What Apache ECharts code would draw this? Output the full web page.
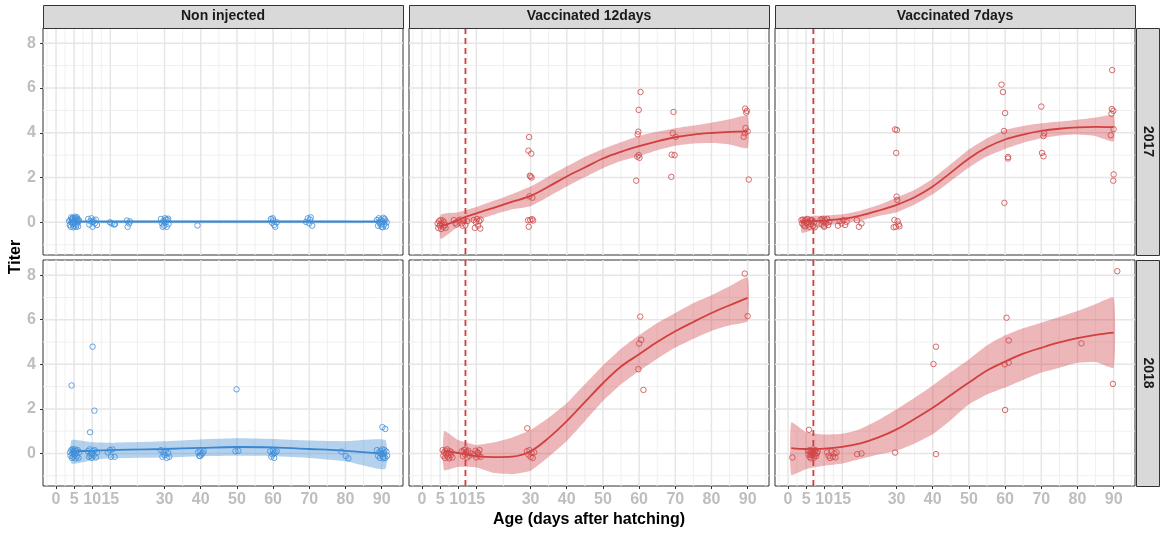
<!DOCTYPE html>
<html>
<head>
<meta charset="utf-8">
<script src="https://cdn.jsdelivr.net/npm/echarts@6/dist/echarts.min.js"></script>
<style>
html, body { margin: 0; padding: 0; background: #fff; }
#main { width: 1160px; height: 534px; }
</style>
</head>
<body>
<div id="main"></div>
<script>
// facet labels
var groups = ['Non injected', 'Vaccinated 12days', 'Vaccinated 7days'];
var years = ['2017', '2018'];
var vaccDay = [null, 12, 7];

// axis breaks (ggplot style major / minor)
var xBreaks = [0, 5, 10, 15, 30, 40, 50, 60, 70, 80, 90];
var xMinor = [-2.5, 2.5, 7.5, 12.5, 22.5, 35, 45, 55, 65, 75, 85, 95];
var yBreaks = [0, 2, 4, 6, 8];
var yMinor = [-1, 1, 3, 5, 7];

// ---- points [age, titer] ----
var nonInj2017 = [
  [3.6,0.05],[3.8,-0.12],[4.0,0.1],[4.1,-0.2],[4.2,0.22],[4.3,0.0],[4.4,0.15],[4.6,-0.08],[4.7,0.2],[4.8,-0.22],
  [4.9,0.05],[5.0,-0.15],[5.1,0.12],[5.2,-0.02],[5.3,0.25],[5.4,0.18],[5.5,-0.2],[5.6,0.08],[5.7,-0.1],[5.8,0.22],
  [5.9,0.15],[6.0,0.0],[6.1,-0.18],[6.2,0.05],[6.3,0.1],
  [8.9,0.15],[9.2,-0.1],[9.5,0.05],[9.8,0.18],[10.1,-0.2],[10.2,0.02],[10.4,0.08],[10.7,-0.05],[11.0,0.12],[11.3,-0.12],
  [14.9,0.0],[15.4,-0.05],[16.0,-0.1],[16.3,-0.08],
  [19.6,0.08],[19.8,-0.2],[20.2,-0.05],[20.4,0.04],
  [29.0,0.15],[29.3,-0.05],[29.5,-0.2],[29.6,0.05],[29.9,-0.15],[30.1,0.18],[30.3,0.0],[30.4,0.12],[30.6,-0.2],
  [30.8,0.1],[31.0,0.16],[31.1,-0.08],
  [39.1,-0.14],
  [59.4,0.15],[59.7,-0.02],[59.9,0.18],[60.0,0.08],[60.3,-0.12],[60.6,-0.2],[61.0,0.0],
  [69.1,0.02],[69.6,0.18],[70.0,-0.05],[70.2,0.12],[70.4,0.22],[70.8,-0.15],
  [88.7,0.1],[89.0,-0.15],[89.2,0.18],[89.4,0.02],[89.5,-0.05],[89.8,0.12],[89.9,-0.1],[90.0,-0.2],[90.2,0.05],
  [90.3,-0.22],[90.5,0.2],[90.7,-0.1],[90.8,0.15],[91.0,0.08],[91.2,-0.18],[91.4,0.0]
];
var vac12_2017 = [
  [4.3,-0.05],[4.5,-0.25],[4.7,0.05],[4.9,-0.15],[5.0,-0.1],[5.1,0.1],[5.3,-0.3],[5.5,-0.05],[5.7,0.08],[5.9,-0.2],
  [6.1,0.0],[6.3,-0.12],[6.5,-0.25],
  [8.8,0.1],[9.2,-0.02],[9.5,-0.1],[10.0,0.08],[10.6,0.12],[11.0,-0.05],[11.2,-0.15],[11.5,0.1],[12.0,-0.12],[12.5,0.05],
  [14.3,0.1],[14.6,-0.25],[14.9,0.0],[15.2,0.15],[15.5,-0.15],[15.8,0.05],[16.1,-0.28],[16.2,0.12],
  [29.6,3.81],[29.4,3.2],[30.2,3.07],[29.8,2.08],[30.0,2.05],[30.3,2.0],[29.7,1.16],[30.5,1.1],[29.3,0.09],
  [29.9,0.1],[30.4,0.14],[30.7,0.08],[29.5,-0.2],
  [60.4,5.82],[59.9,5.02],[59.8,4.05],[59.6,3.93],[59.5,2.93],[59.9,3.0],[60.1,2.88],[59.2,1.86],
  [69.5,4.93],[69.3,3.98],[70.1,3.82],[69.0,3.02],[69.8,3.0],[68.9,2.03],
  [89.3,5.08],[89.8,4.98],[89.6,4.9],[89.4,4.21],[90.0,4.06],[89.2,3.98],[88.9,3.82],[90.3,1.91]
];
var vac7_2017 = [
  [3.7,0.1],[3.9,-0.05],[4.1,0.12],[4.3,-0.12],[4.5,0.05],[4.7,-0.18],[4.9,0.1],[5.1,-0.02],[5.3,0.15],[5.5,-0.1],
  [5.7,0.02],[5.9,-0.2],[6.1,0.08],[6.3,-0.08],[6.6,0.1],[6.9,-0.15],[7.2,0.0],[7.4,-0.22],
  [9.0,0.12],[9.3,-0.1],[9.5,0.15],[9.6,0.05],[9.9,-0.15],[10.0,-0.2],[10.2,0.1],[10.5,-0.05],[10.8,0.15],[11.1,-0.12],[11.4,0.02],
  [13.8,-0.15],[14.3,0.05],[14.8,-0.05],[15.3,0.1],[15.8,-0.12],[16.2,0.02],
  [19.0,0.1],[19.6,-0.2],[20.3,-0.05],
  [29.6,4.15],[30.1,4.12],[29.9,3.1],[30.0,1.15],[30.2,1.0],[29.4,0.1],[30.3,0.05],[30.6,-0.1],[29.2,-0.22],
  [29.8,-0.2],[30.8,-0.18],
  [59.0,6.15],[59.4,5.82],[60.0,4.88],[59.7,4.08],[60.8,2.92],[60.8,2.85],[59.8,0.87],
  [70.0,5.17],[70.8,3.98],[70.6,3.85],[70.2,3.1],[70.6,2.95],
  [89.6,6.8],[89.5,5.06],[89.9,4.98],[89.4,4.85],[90.0,4.16],[89.2,3.89],[90.0,2.14],[89.9,1.86]
];
var nonInj2018 = [
  [4.3,3.05],[10.1,4.79],[10.6,1.92],[9.4,0.95],[49.9,2.88],[90.2,1.18],[91.0,1.1],
  [3.9,0.05],[4.0,-0.1],[4.2,0.15],[4.4,-0.2],[4.5,0.0],[4.6,0.2],[4.7,0.12],[4.8,-0.15],[5.0,0.08],[5.1,-0.05],
  [5.3,0.18],[5.4,-0.22],[5.5,0.02],[5.6,0.1],[5.8,-0.12],[6.0,0.15],[6.2,-0.2],[6.4,0.05],
  [8.8,0.1],[9.1,-0.15],[9.3,0.18],[9.5,-0.1],[9.6,0.0],[9.9,-0.2],[10.0,-0.02],[10.2,0.12],[10.4,-0.08],
  [10.7,0.15],[11.0,-0.18],[11.3,0.05],
  [14.3,0.05],[14.9,0.15],[15.2,-0.15],[15.6,0.18],[16.2,-0.15],
  [29.0,0.15],[29.4,-0.15],[29.7,0.05],[30.0,-0.08],[30.3,0.12],[30.6,-0.2],[31.0,0.02],[31.3,-0.15],
  [39.3,0.05],[39.6,-0.1],[39.8,-0.12],[39.9,0.12],[40.2,-0.05],[40.5,0.02],[40.8,0.1],
  [49.6,0.1],[50.4,0.12],
  [59.2,0.1],[59.5,-0.15],[59.8,-0.05],[60.0,0.12],[60.2,0.0],[60.3,-0.2],[60.6,0.05],[61.0,0.1],
  [78.9,0.08],[80.1,-0.12],[80.8,-0.22],
  [88.7,0.15],[89.0,-0.1],[89.3,0.05],[89.5,-0.2],[89.7,0.12],[89.9,0.0],[90.0,-0.05],[90.2,0.18],[90.4,-0.15],
  [90.5,-0.22],[90.6,0.02],[90.8,0.15],[91.0,-0.2],[91.3,0.08],[91.5,-0.1]
];
var vac12_2018 = [
  [5.7,0.15],[5.9,-0.1],[6.1,0.05],[6.3,-0.2],[6.5,0.12],[6.7,-0.05],[6.9,0.18],[7.1,-0.15],[7.3,0.02],[7.5,-0.22],
  [7.7,0.1],[7.9,-0.08],[8.1,0.05],[8.4,-0.18],
  [11.0,0.1],[11.3,-0.12],[11.6,0.15],[11.9,-0.05],[12.0,0.18],[12.2,0.08],[12.5,-0.18],[12.8,0.12],[13.1,-0.1],[13.4,0.0],
  [14.4,-0.05],[14.8,0.12],[15.0,-0.18],[15.3,0.05],[15.5,0.02],[15.6,-0.1],[15.9,0.15],[16.2,-0.15],
  [29.1,1.13],[29.0,0.1],[29.4,-0.05],[29.7,0.15],[30.0,-0.15],[30.3,0.02],[30.6,-0.2],[31.0,0.05],
  [60.3,6.14],[60.6,5.1],[60.0,4.93],[59.8,3.78],[61.2,2.85],
  [89.2,8.07],[90.0,6.16]
];
var vac7_2018 = [
  [1.2,-0.18],[5.8,1.06],
  [5.5,0.1],[5.7,-0.05],[5.9,0.15],[6.0,-0.15],[6.2,0.05],[6.3,-0.22],[6.4,-0.08],[6.5,0.12],[6.6,0.0],[6.8,-0.1],
  [6.9,0.18],[7.0,0.05],[7.1,-0.02],[7.2,-0.18],[7.3,0.1],[7.5,-0.05],[7.6,0.15],[7.8,-0.12],[8.0,0.02],[8.2,0.1],
  [10.8,0.05],[11.2,-0.1],[11.6,-0.2],[12.0,0.08],[12.4,-0.15],[12.8,0.0],[13.1,-0.18],[13.4,0.05],
  [19.1,-0.03],[20.3,0.0],[29.6,0.04],
  [40.9,4.79],[40.2,4.01],[40.9,-0.03],
  [60.4,6.09],[61.0,5.07],[61.0,4.07],[59.9,4.0],[60.0,1.95],
  [81.1,4.94],[91.0,8.18],[89.8,3.12]
];

// ---- smoothed fits [age, titer] ----
var fitNon2017 = [[3.6,0.03],[30,0.03],[60,0.03],[91.4,0.03]];
var fit12_2017 = [[5.2,-0.18],[10,0.1],[12,0.24],[15,0.4],[20,0.66],[25,0.92],[30,1.18],[35,1.6],[40,2.05],
  [45,2.45],[50,2.85],[55,3.15],[60,3.4],[65,3.62],[70,3.8],[75,3.92],[80,3.99],[85,4.04],[90,4.06]];
var fit7_2017 = [[3.8,0.05],[10,0.08],[15,0.15],[20,0.3],[25,0.52],[30,0.78],[35,1.12],[40,1.6],[45,2.22],
  [50,2.85],[55,3.35],[60,3.7],[65,3.92],[70,4.08],[75,4.18],[80,4.24],[85,4.26],[90,4.25]];
var fitNon2018 = [[4.3,0.1],[10,0.12],[15,0.15],[20,0.17],[30,0.2],[40,0.25],[50,0.29],[60,0.27],[70,0.2],
  [80,0.12],[91,-0.02]];
var fit12_2018 = [[6.1,0.12],[10,0.02],[12,-0.03],[15,-0.12],[20,-0.16],[25,-0.14],[30,0.1],[35,0.7],[40,1.45],
  [45,2.3],[50,3.15],[55,3.9],[60,4.45],[65,5.0],[70,5.48],[75,5.9],[80,6.3],[85,6.65],[90,6.98]];
var fit7_2018 = [[0.9,0.24],[5,0.2],[10,0.22],[15,0.3],[20,0.45],[25,0.72],[30,1.08],[35,1.55],[40,2.05],
  [45,2.62],[50,3.18],[55,3.72],[60,4.12],[65,4.48],[70,4.74],[75,4.98],[80,5.17],[85,5.32],[90,5.42]];

// ---- confidence bands [age, lower, upper] ----
var bandNon2017 = [[3.6,-0.03,0.09],[91.4,-0.03,0.09]];
var band12_2017 = [[5.2,-0.74,0.34],[10,-0.2,0.45],[15,0.1,0.68],[20,0.35,0.97],[25,0.58,1.27],[30,0.72,1.6],
  [35,1.15,2.05],[40,1.6,2.5],[45,2.02,2.92],[50,2.42,3.28],[55,2.74,3.58],[60,2.96,3.86],[65,3.22,4.04],
  [70,3.42,4.2],[75,3.52,4.32],[80,3.54,4.45],[85,3.48,4.6],[90,3.32,4.76]];
var band7_2017 = [[3.8,-0.47,0.22],[10,-0.15,0.3],[15,-0.05,0.36],[20,0.08,0.52],[25,0.28,0.77],[30,0.45,1.1],
  [35,0.8,1.45],[40,1.25,1.95],[45,1.85,2.6],[50,2.45,3.25],[55,2.95,3.75],[60,3.28,4.12],[65,3.55,4.3],
  [70,3.75,4.42],[75,3.88,4.5],[80,3.92,4.58],[85,3.85,4.68],[90,3.62,4.78]];
var bandNon2018 = [[4.3,-0.45,0.6],[10,-0.3,0.5],[15,-0.22,0.48],[20,-0.2,0.5],[30,-0.18,0.55],[40,-0.12,0.63],
  [50,-0.1,0.68],[60,-0.12,0.65],[70,-0.2,0.58],[80,-0.35,0.55],[91,-0.7,0.6]];
var band12_2018 = [[6.1,-0.75,1.0],[10,-0.6,0.6],[15,-0.63,0.38],[20,-0.88,0.5],[25,-0.93,0.72],[30,-0.78,1.05],
  [35,-0.15,1.6],[40,0.56,2.25],[45,1.45,3.1],[50,2.35,3.95],[55,3.1,4.7],[60,3.7,5.3],[65,4.25,5.85],
  [70,4.75,6.3],[75,5.15,6.75],[80,5.5,7.1],[85,5.75,7.5],[90,5.94,7.9]];
var band7_2018 = [[0.9,-0.96,1.39],[5,-0.7,0.95],[10,-0.55,0.85],[15,-0.45,0.88],[20,-0.25,1.1],[25,-0.05,1.5],
  [30,0.12,1.98],[35,0.45,2.5],[40,0.86,3.05],[45,1.5,3.65],[50,2.21,4.22],[55,2.65,4.85],[60,2.96,5.3],
  [65,3.3,5.62],[70,3.63,5.87],[75,3.85,6.12],[80,4.07,6.39],[85,4.1,6.7],[90,3.85,6.99]];

// layout
var colLeft = [43, 409, 775];
var colWidth = 360;
var rowTop = [28, 260];
var rowHeight = [227, 226];
var xMin = -3.6, xMax = 95.9;
var yMin = -1.46, yMax = 8.68;

var blue = { pt: '#3F8EDA', line: '#3A86D0', band: 'rgba(58,134,208,0.38)' };
var red = { pt: '#D0474A', line: '#D23F3F', band: 'rgba(208,64,68,0.38)' };

var panels = [
  { row: 0, col: 0, pts: nonInj2017, fit: fitNon2017, band: bandNon2017, c: blue },
  { row: 0, col: 1, pts: vac12_2017, fit: fit12_2017, band: band12_2017, c: red },
  { row: 0, col: 2, pts: vac7_2017, fit: fit7_2017, band: band7_2017, c: red },
  { row: 1, col: 0, pts: nonInj2018, fit: fitNon2018, band: bandNon2018, c: blue },
  { row: 1, col: 1, pts: vac12_2018, fit: fit12_2018, band: band12_2018, c: red },
  { row: 1, col: 2, pts: vac7_2018, fit: fit7_2018, band: band7_2018, c: red }
];

var FONT = '"Liberation Sans", Arial, sans-serif';
var grids = [], xAxes = [], yAxes = [], series = [];

function gridLines(params, api) {
  if (params.dataIndex !== 0) return;
  var lo = api.coord([xMin, yMin]), hi = api.coord([xMax, yMax]);
  var kids = [];
  function vline(v, col, w) {
    var x = api.coord([v, 0])[0];
    kids.push({ type: 'line', shape: { x1: x, y1: hi[1], x2: x, y2: lo[1] }, style: { stroke: col, lineWidth: w } });
  }
  function hline(v, col, w) {
    var y = api.coord([0, v])[1];
    kids.push({ type: 'line', shape: { x1: lo[0], y1: y, x2: hi[0], y2: y }, style: { stroke: col, lineWidth: w } });
  }
  xMinor.forEach(function (v) { vline(v, '#F0F0F0', 1); });
  yMinor.forEach(function (v) { hline(v, '#F0F0F0', 1); });
  xBreaks.forEach(function (v) { vline(v, '#E6E6E6', 1.5); });
  yBreaks.forEach(function (v) { hline(v, '#E6E6E6', 1.5); });
  return { type: 'group', children: kids };
}

panels.forEach(function (p, i) {
  grids.push({
    left: colLeft[p.col], top: rowTop[p.row], width: colWidth, height: rowHeight[p.row],
    show: true, borderColor: '#333333', borderWidth: 1, backgroundColor: '#ffffff'
  });
  var bottom = p.row === 1, leftCol = p.col === 0;
  xAxes.push({
    type: 'value', gridIndex: i, min: xMin, max: xMax, position: 'bottom',
    splitLine: { show: false }, axisLine: { show: false, onZero: false },
    axisTick: { show: bottom, customValues: xBreaks, length: 3, lineStyle: { color: '#333333' } },
    axisLabel: {
      show: bottom, customValues: xBreaks, margin: 6,
      color: '#BEBEBE', fontSize: 16, fontWeight: 'bold', fontFamily: FONT
    }
  });
  yAxes.push({
    type: 'value', gridIndex: i, min: yMin, max: yMax, position: 'left',
    splitLine: { show: false }, axisLine: { show: false, onZero: false },
    axisTick: { show: leftCol, customValues: yBreaks, length: 3, lineStyle: { color: '#333333' } },
    axisLabel: {
      show: leftCol, customValues: yBreaks, margin: 7,
      color: '#BEBEBE', fontSize: 16, fontWeight: 'bold', fontFamily: FONT
    }
  });

  series.push({
    type: 'custom', xAxisIndex: i, yAxisIndex: i, silent: true, z: 1,
    data: [[xMin, yMin]], renderItem: gridLines
  });

  var band = p.band, bandColor = p.c.band;
  series.push({
    type: 'custom', xAxisIndex: i, yAxisIndex: i, silent: true, z: 3, clip: true,
    data: band, encode: { x: 0, y: [1, 2] },
    renderItem: function (params, api) {
      if (params.dataIndex !== 0) return;
      var pts = [];
      band.forEach(function (r) { pts.push(api.coord([r[0], r[2]])); });
      for (var k = band.length - 1; k >= 0; k--) pts.push(api.coord([band[k][0], band[k][1]]));
      return { type: 'polygon', shape: { points: pts, smooth: 0.15 }, style: { fill: bandColor } };
    }
  });

  var vd = vaccDay[p.col];
  if (vd !== null) {
    series.push({
      type: 'custom', xAxisIndex: i, yAxisIndex: i, silent: true, z: 4,
      data: [[vd, yMin]],
      renderItem: function (params, api) {
        var x = api.coord([vd, 0])[0];
        var lo = api.coord([vd, yMin])[1], hi = api.coord([vd, yMax])[1];
        return { type: 'line', shape: { x1: x, y1: hi, x2: x, y2: lo },
          style: { stroke: '#D33F3F', lineWidth: 1.8, lineDash: [6, 4] } };
      }
    });
  }

  series.push({
    type: 'line', xAxisIndex: i, yAxisIndex: i, silent: true, z: 5,
    data: p.fit, showSymbol: false, smooth: 0.35,
    lineStyle: { color: p.c.line, width: 1.8 }
  });

  series.push({
    type: 'scatter', xAxisIndex: i, yAxisIndex: i, silent: true, z: 6,
    data: p.pts, symbol: 'circle', symbolSize: 5.5,
    itemStyle: { color: 'rgba(0,0,0,0)', borderColor: p.c.pt, borderWidth: 1 }
  });
});

// strips and axis titles
var graphics = [];
groups.forEach(function (g, c) {
  graphics.push({
    type: 'rect', left: colLeft[c], top: 5,
    shape: { x: 0, y: 0, width: colWidth, height: 23 },
    style: { fill: '#D9D9D9', stroke: '#333333', lineWidth: 1 }, z: 10
  });
  graphics.push({
    type: 'text', x: colLeft[c] + colWidth / 2, y: 16.5, z: 11,
    style: { text: g, align: 'center', verticalAlign: 'middle', fill: '#1A1A1A',
      fontSize: 14, fontWeight: 'bold', fontFamily: FONT }
  });
});
years.forEach(function (yr, r) {
  graphics.push({
    type: 'rect', left: 1136, top: rowTop[r],
    shape: { x: 0, y: 0, width: 23, height: rowHeight[r] },
    style: { fill: '#D9D9D9', stroke: '#333333', lineWidth: 1 }, z: 10
  });
  graphics.push({
    type: 'text', x: 1147.5, y: rowTop[r] + rowHeight[r] / 2, rotation: -Math.PI / 2, z: 11,
    style: { text: yr, align: 'center', verticalAlign: 'middle', fill: '#1A1A1A',
      fontSize: 14, fontWeight: 'bold', fontFamily: FONT }
  });
});
graphics.push({
  type: 'text', x: 16, y: 257, rotation: Math.PI / 2, z: 11,
  style: { text: 'Titer', align: 'center', verticalAlign: 'middle', fill: '#000',
    fontSize: 16, fontWeight: 'bold', fontFamily: FONT }
});
graphics.push({
  type: 'text', x: 589, y: 520, z: 11,
  style: { text: 'Age (days after hatching)', align: 'center', verticalAlign: 'middle', fill: '#000',
    fontSize: 16, fontWeight: 'bold', fontFamily: FONT }
});

var chart = echarts.init(document.getElementById('main'));
chart.setOption({
  backgroundColor: '#ffffff',
  animation: false,
  grid: grids,
  xAxis: xAxes,
  yAxis: yAxes,
  series: series,
  graphic: graphics
});
</script>
</body>
</html>
